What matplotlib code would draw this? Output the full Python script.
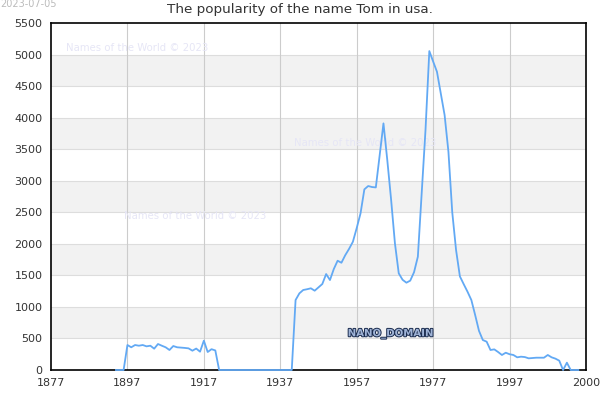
import matplotlib
matplotlib.use("Agg")
import matplotlib.pyplot as plt
import matplotlib.patheffects as pe

title = "The popularity of the name Tom in usa."
date_text = "2023-07-05"
watermark = "Names of the World © 2023"
brand = "NANO_DOMAIN"

years = list(range(1894, 2016))
values = [
    # 1894-1903
    0, 0, 0, 396, 360, 396, 385, 396, 375, 385,
    # 1904-1913
    338, 412, 385, 360, 317, 380, 360, 355, 350, 343,
    # 1914-1923
    306, 340, 290, 465, 285, 330, 310, 0, 0, 0,
    # 1924-1933
    0, 0, 0, 0, 0, 0, 0, 0, 0, 0,
    # 1934-1943
    0, 0, 0, 0, 0, 0, 0, 1109, 1215, 1268,
    # 1944-1953
    1280, 1295, 1257, 1310, 1363, 1521, 1426, 1600, 1732, 1700,
    # 1954-1963
    1820, 1920, 2033, 2250, 2483, 2863, 2916, 2900, 2894, 3400,
    # 1964-1973
    3909, 3328, 2700, 2008, 1532, 1430, 1384, 1416, 1550, 1796,
    # 1974-1983
    2800, 3803, 5055, 4890, 4727, 4384, 4041, 3460, 2500, 1900,
    # 1984-1993
    1484, 1360, 1240, 1109, 870, 620, 475, 449, 317, 327,
    # 1994-2003
    285, 238, 274, 250, 238, 201, 211, 205, 185, 190,
    # 2004-2013
    195, 195, 195, 238, 201, 180, 148, 0, 116, 0,
    # 2014-2015
    0, 0,
]

x_ticks = [1877, 1897, 1917, 1937, 1957, 1977, 1997, 2017]
x_tick_labels = ["1877", "1897", "1917", "1937", "1957", "1977", "1997", "2000"]
y_ticks = list(range(0, 5501, 500))

fig = plt.figure(figsize=(6, 4), dpi=100)
ax = fig.add_axes([51/600, 30/400, 535/600, 347/400])

x_min, x_max = 1877, 2017
y_min, y_max = 0, 5500

# alternating bands
for i, y0 in enumerate(y_ticks[:-1]):
    if i % 2 == 1:
        ax.axhspan(y0, y0 + 500, color="#f2f2f2", zorder=0, lw=0)
for y in y_ticks[1:-1]:
    ax.axhline(y, color="#dddddd", lw=0.8, zorder=1)
for x in x_ticks[1:-1]:
    ax.axvline(x, color="#cccccc", lw=0.8, zorder=1)

ax.plot(years, values, color="#62a9f4", lw=1.3, zorder=3, clip_on=False)

ax.set_xlim(x_min, x_max)
ax.set_ylim(y_min, y_max)
ax.set_xticks(x_ticks)
ax.set_xticklabels(x_tick_labels)
ax.set_yticks(y_ticks)
ax.tick_params(length=0, labelsize=8, colors="#333333", pad=6)
for s in ax.spines.values():
    s.set_color("black")
    s.set_linewidth(1.2)

# watermarks
wm_pos = [(1881, 5108), (1896, 2445), (1940.5, 3593)]
for wx, wy in wm_pos:
    ax.text(wx, wy, watermark, fontsize=7.3, color="#e6e6f6", zorder=2,
            va="center", ha="left")

ax.text(1965.8, 580, brand, fontsize=7.3, fontweight="bold", color="#9fb3d6",
        ha="center", va="center", zorder=4,
        path_effects=[pe.withStroke(linewidth=1.4, foreground="#1b2c4e")])

fig.text(0.5, 1 - 10/400, title, ha="center", va="center", fontsize=9.7, color="#333333")
fig.text(0.0, 1 - 4/400, date_text, ha="left", va="center", fontsize=7, color="#bbbbbb")

fig.savefig("out.png", dpi=100)
